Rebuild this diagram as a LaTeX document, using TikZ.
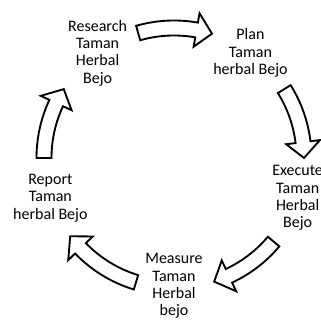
\documentclass[tikz,border=0pt]{standalone}
\usepackage{fontspec}
\setmainfont{Carlito}
\usepackage{tikz}
\usetikzlibrary{positioning}

% curved block arrow on the cycle: #1 tail angle, #2 tip angle
\newcommand{\cyclearrow}[2]{%
  \draw[arrow-a] (#1:137.5) arc[start angle=#1, end angle={#2+7}, radius=137.5]
    -- ({#2+7}:147) -- (#2:130) -- ({#2+7}:113) -- ({#2+7}:122.5)
    arc[start angle={#2+7}, end angle=#1, radius=122.5] -- cycle;}

\begin{document}
\begin{tikzpicture}
[
x=0.75pt, y=0.75pt,
stage-a/.style={align=center, inner sep=0pt, font=\fontsize{12}{13}\selectfont},
arrow-a/.style={draw=black, fill=white, line width=1.4pt, line join=miter}
]
\fill[white] (-174,-162) rectangle (147,158);
\useasboundingbox (-174,-162) rectangle (147,158);
\coordinate (centre) at (0,0);
\node (research) [stage-a] at (126:130) {Research\\Taman\\Herbal\\Bejo};
\node (plan)     [stage-a] at (54:130)  {Plan\\Taman\\herbal Bejo};
\node (execute)  [stage-a] at (-18:130) {Execute\\Taman\\Herbal\\Bejo};
\node (measure)  [stage-a] at (-90:128) {Measure\\Taman\\Herbal\\bejo};
\node (report)   [stage-a] at (198:130) {Report\\Taman\\herbal Bejo};
\cyclearrow{106}{73}
\cyclearrow{32}{0}
\cyclearrow{-40}{-72}
\cyclearrow{-107}{-143}
\cyclearrow{180}{148}
\end{tikzpicture}
\end{document}
